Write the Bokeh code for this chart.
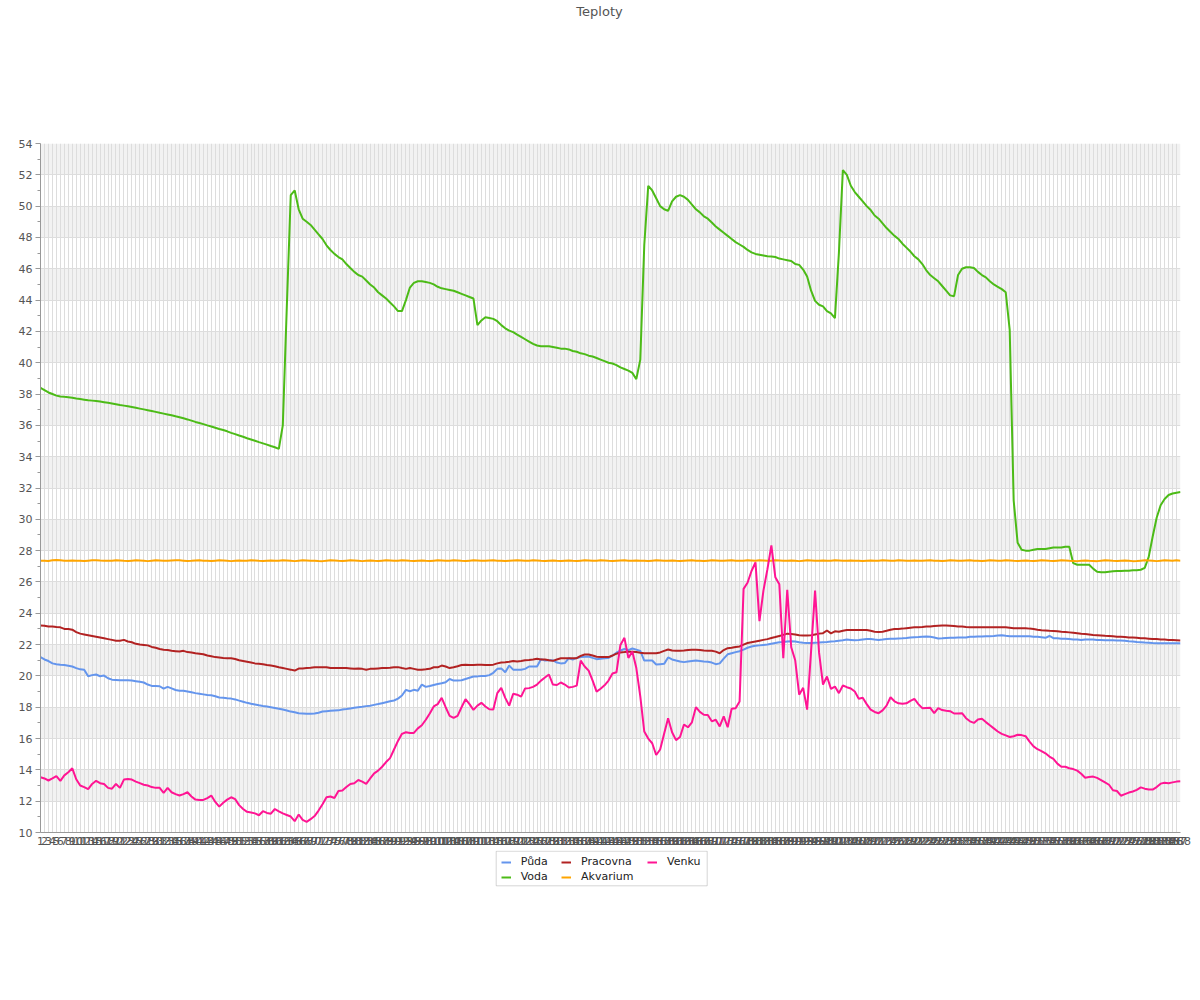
from bokeh.plotting import figure
from bokeh.models import Range1d, FixedTicker, Legend, LegendItem, Label, BoxAnnotation
from bokeh.layouts import column
from bokeh.embed import file_html
from bokeh.resources import INLINE

# ---- data -------------------------------------------------------------
chart_title = "Teploty"
x_labels = [str(i) for i in range(1, 289)]

puda = [
21.2, 21.05, 20.95, 20.8, 20.75, 20.72, 20.7, 20.65, 20.6, 20.5,
20.42, 20.4, 19.98, 20.05, 20.09, 19.98, 20.02, 19.85, 19.76, 19.74,
19.72, 19.72, 19.72, 19.7, 19.66, 19.62, 19.58, 19.45, 19.36, 19.35,
19.34, 19.19, 19.3, 19.2, 19.1, 19.05, 19.05, 19.0, 18.95, 18.9,
18.86, 18.82, 18.78, 18.76, 18.7, 18.62, 18.6, 18.57, 18.55, 18.5,
18.42, 18.35, 18.28, 18.22, 18.17, 18.12, 18.08, 18.05, 18.0, 17.95,
17.9, 17.85, 17.79, 17.72, 17.68, 17.62, 17.6, 17.58, 17.58, 17.6,
17.65, 17.73, 17.75, 17.77, 17.79, 17.8, 17.85, 17.88, 17.92, 17.96,
18.0, 18.03, 18.07, 18.1, 18.15, 18.2, 18.26, 18.32, 18.38, 18.43,
18.55, 18.75, 19.11, 19.02, 19.11, 19.05, 19.45, 19.3, 19.35, 19.42,
19.48, 19.53, 19.6, 19.8, 19.7, 19.7, 19.72, 19.8, 19.88, 19.96,
19.97, 20.0, 20.0, 20.05, 20.2, 20.45, 20.48, 20.24, 20.66, 20.4,
20.4, 20.4, 20.45, 20.6, 20.6, 20.6, 21.07, 20.98, 21.0, 21.0,
20.85, 20.8, 20.82, 21.13, 21.05, 21.15, 21.2, 21.22, 21.24, 21.15,
21.07, 21.09, 21.12, 21.15, 21.3, 21.48, 21.62, 21.72, 21.65, 21.75,
21.68, 21.6, 20.98, 20.98, 20.98, 20.73, 20.75, 20.77, 21.18, 21.05,
20.98, 20.92, 20.88, 20.92, 20.95, 20.98, 20.95, 20.92, 20.9, 20.85,
20.75, 20.8, 21.1, 21.38, 21.45, 21.52, 21.58, 21.68, 21.8, 21.88,
21.92, 21.95, 21.98, 22.0, 22.05, 22.1, 22.15, 22.17, 22.2, 22.22,
22.2, 22.15, 22.12, 22.1, 22.1, 22.12, 22.13, 22.15, 22.17, 22.2,
22.22, 22.25, 22.28, 22.32, 22.3, 22.28, 22.3, 22.33, 22.35, 22.35,
22.32, 22.3, 22.32, 22.35, 22.37, 22.38, 22.39, 22.4, 22.42, 22.45,
22.47, 22.48, 22.5, 22.52, 22.5, 22.45, 22.39, 22.4, 22.42, 22.43,
22.44, 22.45, 22.45, 22.45, 22.5, 22.5, 22.52, 22.52, 22.53, 22.53,
22.55, 22.58, 22.6, 22.56, 22.53, 22.53, 22.53, 22.53, 22.53, 22.53,
22.5, 22.5, 22.47, 22.43, 22.55, 22.41, 22.4, 22.38, 22.37, 22.35,
22.33, 22.32, 22.3, 22.32, 22.32, 22.32, 22.3, 22.3, 22.28, 22.28,
22.27, 22.26, 22.26, 22.25, 22.22, 22.2, 22.16, 22.15, 22.13, 22.12,
22.1, 22.09, 22.09, 22.09, 22.09, 22.09, 22.09, 22.09]

voda = [
38.4, 38.25, 38.1, 38.0, 37.9, 37.85, 37.82, 37.8, 37.77, 37.72,
37.68, 37.64, 37.6, 37.58, 37.55, 37.52, 37.48, 37.44, 37.4, 37.35,
37.3, 37.26, 37.22, 37.17, 37.12, 37.07, 37.02, 36.97, 36.92, 36.86,
36.8, 36.75, 36.7, 36.65, 36.58, 36.52, 36.45, 36.38, 36.3, 36.22,
36.15, 36.08, 36.0, 35.93, 35.85, 35.77, 35.7, 35.62, 35.52, 35.44,
35.35, 35.27, 35.18, 35.1, 35.02, 34.93, 34.85, 34.77, 34.68, 34.6,
34.5, 36.0, 43.5, 50.7, 51.0, 49.8, 49.2, 49.0, 48.8, 48.5,
48.2, 47.9, 47.5, 47.2, 46.95, 46.75, 46.6, 46.3, 46.05, 45.8,
45.6, 45.5, 45.25, 45.0, 44.8, 44.5, 44.3, 44.1, 43.85, 43.6,
43.3, 43.3, 44.0, 44.8, 45.1, 45.2, 45.2, 45.15, 45.1, 45.0,
44.85, 44.75, 44.7, 44.65, 44.6, 44.5, 44.4, 44.3, 44.2, 44.1,
42.4, 42.7, 42.9, 42.85, 42.8, 42.65, 42.4, 42.2, 42.05, 41.95,
41.8, 41.65, 41.5, 41.35, 41.2, 41.1, 41.05, 41.05, 41.05, 41.0,
40.95, 40.9, 40.9, 40.85, 40.75, 40.7, 40.6, 40.55, 40.45, 40.4,
40.3, 40.2, 40.1, 40.0, 39.95, 39.85, 39.7, 39.6, 39.5, 39.35,
38.95, 40.2, 47.5, 51.3, 51.0, 50.5, 50.0, 49.8, 49.7, 50.3,
50.6, 50.7, 50.6, 50.4, 50.1, 49.8, 49.6, 49.35, 49.2, 48.95,
48.7, 48.5, 48.3, 48.1, 47.9, 47.7, 47.55, 47.4, 47.2, 47.05,
46.95, 46.9, 46.85, 46.8, 46.78, 46.75, 46.65, 46.6, 46.55, 46.5,
46.3, 46.25, 45.95, 45.5, 44.6, 43.95, 43.7, 43.6, 43.3, 43.15,
42.85, 47.0, 52.3, 52.0, 51.3, 50.9, 50.6, 50.3, 50.0, 49.75,
49.4, 49.2, 48.9, 48.6, 48.35, 48.1, 47.9, 47.6, 47.35, 47.1,
46.8, 46.6, 46.3, 45.9, 45.6, 45.4, 45.2, 44.9, 44.6, 44.3,
44.25, 45.6, 46.0, 46.1, 46.1, 46.05, 45.8, 45.6, 45.45, 45.2,
45.0, 44.85, 44.7, 44.5, 42.1, 31.2, 28.5, 28.05, 28.0, 28.0,
28.05, 28.1, 28.1, 28.1, 28.15, 28.2, 28.2, 28.2, 28.25, 28.25,
27.2, 27.1, 27.1, 27.1, 27.1, 26.85, 26.65, 26.62, 26.62, 26.65,
26.68, 26.7, 26.7, 26.72, 26.72, 26.75, 26.75, 26.78, 26.9, 27.6,
28.9, 30.1, 30.9, 31.3, 31.55, 31.65, 31.7, 31.75]

pracovna = [
23.22, 23.2, 23.15, 23.15, 23.12, 23.1, 23.0, 23.0, 22.95, 22.8,
22.7, 22.65, 22.6, 22.55, 22.5, 22.45, 22.4, 22.35, 22.3, 22.25,
22.25, 22.3, 22.2, 22.15, 22.05, 22.0, 21.98, 21.95, 21.85, 21.8,
21.72, 21.67, 21.65, 21.6, 21.58, 21.56, 21.6, 21.52, 21.5, 21.45,
21.42, 21.38, 21.3, 21.25, 21.2, 21.18, 21.15, 21.13, 21.13, 21.08,
21.0, 20.95, 20.9, 20.85, 20.8, 20.78, 20.75, 20.7, 20.66, 20.62,
20.55, 20.5, 20.45, 20.4, 20.34, 20.47, 20.48, 20.5, 20.52, 20.55,
20.56, 20.56, 20.55, 20.5, 20.5, 20.5, 20.5, 20.5, 20.48, 20.45,
20.48, 20.45, 20.4, 20.45, 20.45, 20.48, 20.5, 20.5, 20.52, 20.55,
20.56, 20.5, 20.45, 20.5, 20.45, 20.4, 20.4, 20.42, 20.45, 20.55,
20.55, 20.66, 20.6, 20.5, 20.55, 20.62, 20.7, 20.72, 20.7, 20.7,
20.72, 20.72, 20.7, 20.7, 20.72, 20.8, 20.85, 20.87, 20.9, 20.95,
20.92, 20.95, 21.0, 21.01, 21.05, 21.1, 21.05, 21.05, 21.0, 20.96,
21.05, 21.13, 21.13, 21.13, 21.13, 21.13, 21.28, 21.37, 21.37, 21.3,
21.22, 21.2, 21.2, 21.2, 21.3, 21.42, 21.5, 21.52, 21.55, 21.55,
21.52, 21.48, 21.45, 21.45, 21.45, 21.45, 21.5, 21.6, 21.69, 21.62,
21.6, 21.6, 21.62, 21.65, 21.67, 21.67, 21.65, 21.62, 21.6, 21.6,
21.55, 21.45, 21.65, 21.77, 21.8, 21.85, 21.88, 22.0, 22.1, 22.15,
22.2, 22.25, 22.3, 22.35, 22.42, 22.48, 22.55, 22.62, 22.7, 22.68,
22.65, 22.6, 22.58, 22.58, 22.6, 22.65, 22.7, 22.73, 22.9, 22.72,
22.85, 22.82, 22.88, 22.93, 22.93, 22.93, 22.93, 22.93, 22.93, 22.88,
22.82, 22.8, 22.82, 22.88, 22.95, 23.0, 23.0, 23.02, 23.05, 23.08,
23.1, 23.1, 23.12, 23.15, 23.15, 23.18, 23.2, 23.22, 23.22, 23.2,
23.18, 23.15, 23.15, 23.12, 23.1, 23.1, 23.1, 23.1, 23.1, 23.1,
23.1, 23.1, 23.1, 23.1, 23.08, 23.05, 23.05, 23.05, 23.05, 23.02,
23.0, 22.95, 22.92, 22.9, 22.88, 22.87, 22.85, 22.82, 22.8, 22.78,
22.75, 22.72, 22.69, 22.67, 22.65, 22.62, 22.6, 22.58, 22.56, 22.55,
22.53, 22.5, 22.5, 22.48, 22.46, 22.45, 22.43, 22.41, 22.4, 22.38,
22.36, 22.35, 22.33, 22.32, 22.3, 22.3, 22.28, 22.26]

akvarium = [
27.35, 27.36, 27.34, 27.38, 27.4, 27.38, 27.36, 27.35, 27.37, 27.36,
27.35, 27.34, 27.36, 27.38, 27.39, 27.37, 27.36, 27.35, 27.36, 27.38,
27.37, 27.35, 27.34, 27.36, 27.38, 27.37, 27.35, 27.33, 27.36, 27.38,
27.37, 27.36, 27.35, 27.37, 27.39, 27.38, 27.36, 27.34, 27.35, 27.37,
27.38, 27.36, 27.35, 27.34, 27.36, 27.38, 27.37, 27.35, 27.33, 27.36,
27.37, 27.35, 27.36, 27.38, 27.37, 27.35, 27.34, 27.36, 27.37, 27.35,
27.36, 27.38, 27.37, 27.35, 27.33, 27.36, 27.38, 27.37, 27.35, 27.36,
27.34, 27.33, 27.36, 27.38, 27.37, 27.35, 27.34, 27.36, 27.38, 27.37,
27.35, 27.33, 27.36, 27.37, 27.35, 27.34, 27.36, 27.38, 27.37, 27.35,
27.36, 27.38, 27.37, 27.35, 27.34, 27.36, 27.37, 27.35, 27.34, 27.36,
27.38, 27.37, 27.35, 27.36, 27.38, 27.37, 27.35, 27.34, 27.36, 27.38,
27.37, 27.36, 27.35, 27.37, 27.38, 27.36, 27.35, 27.34, 27.36, 27.37,
27.38, 27.37, 27.35, 27.36, 27.38, 27.37, 27.35, 27.34, 27.36, 27.37,
27.35, 27.34, 27.36, 27.37, 27.35, 27.34, 27.36, 27.38, 27.37, 27.35,
27.36, 27.38, 27.37, 27.35, 27.34, 27.36, 27.37, 27.38, 27.36, 27.35,
27.37, 27.36, 27.35, 27.34, 27.36, 27.38, 27.37, 27.35, 27.36, 27.37,
27.35, 27.34, 27.36, 27.37, 27.38, 27.36, 27.35, 27.34, 27.36, 27.38,
27.37, 27.35, 27.36, 27.37, 27.38, 27.36, 27.35, 27.36, 27.38, 27.37,
27.36, 27.38, 27.37, 27.35, 27.36, 27.38, 27.37, 27.36, 27.35, 27.37,
27.35, 27.33, 27.36, 27.38, 27.37, 27.36, 27.35, 27.37, 27.36, 27.35,
27.38, 27.37, 27.36, 27.35, 27.37, 27.36, 27.35, 27.34, 27.36, 27.37,
27.35, 27.36, 27.38, 27.37, 27.35, 27.36, 27.38, 27.37, 27.36, 27.35,
27.37, 27.36, 27.35, 27.37, 27.38, 27.36, 27.35, 27.34, 27.36, 27.38,
27.37, 27.35, 27.36, 27.37, 27.38, 27.36, 27.35, 27.34, 27.36, 27.38,
27.37, 27.35, 27.36, 27.38, 27.37, 27.35, 27.34, 27.36, 27.37, 27.35,
27.34, 27.36, 27.38, 27.37, 27.35, 27.34, 27.36, 27.38, 27.37, 27.35,
27.34, 27.33, 27.36, 27.37, 27.35, 27.34, 27.33, 27.36, 27.38, 27.37,
27.35, 27.34, 27.36, 27.37, 27.35, 27.33, 27.34, 27.36, 27.38, 27.37,
27.35, 27.33, 27.36, 27.38, 27.37, 27.35, 27.38, 27.36]

venku = [
13.53, 13.45, 13.32, 13.45, 13.6, 13.3, 13.65, 13.85, 14.1, 13.4,
13.0, 12.9, 12.77, 13.1, 13.3, 13.15, 13.1, 12.85, 12.8, 13.1,
12.85, 13.38, 13.41, 13.38, 13.25, 13.15, 13.05, 13.0, 12.9, 12.85,
12.85, 12.53, 12.85, 12.57, 12.45, 12.36, 12.45, 12.57, 12.3, 12.1,
12.08, 12.08, 12.2, 12.36, 11.95, 11.65, 11.9, 12.1, 12.25, 12.13,
11.75, 11.5, 11.32, 11.28, 11.22, 11.1, 11.36, 11.25, 11.2, 11.5,
11.35, 11.22, 11.12, 11.02, 10.72, 11.15, 10.81, 10.68, 10.85, 11.05,
11.4, 11.8, 12.25, 12.3, 12.2, 12.65, 12.68, 12.9, 13.1, 13.15,
13.35, 13.25, 13.11, 13.45, 13.78, 13.95, 14.2, 14.5, 14.75, 15.3,
15.85, 16.3, 16.4, 16.35, 16.36, 16.65, 16.85, 17.2, 17.6, 18.05,
18.2, 18.6, 18.0, 17.45, 17.32, 17.45, 18.0, 18.51, 18.2, 17.83,
18.1, 18.28, 18.05, 17.87, 17.85, 18.9, 19.24, 18.6, 18.1, 18.86,
18.8, 18.68, 19.2, 19.22, 19.3, 19.45, 19.7, 19.9, 20.09, 19.45,
19.42, 19.58, 19.45, 19.26, 19.3, 19.38, 20.98, 20.6, 20.34, 19.7,
19.0, 19.18, 19.4, 19.7, 20.15, 20.23, 21.98, 22.43, 21.15, 21.56,
20.5, 18.7, 16.45, 16.0, 15.7, 14.95, 15.3, 16.3, 17.3, 16.4,
15.9, 16.1, 16.9, 16.72, 17.04, 18.0, 17.7, 17.52, 17.5, 17.1,
17.2, 16.77, 17.41, 16.72, 17.9, 17.94, 18.37, 25.56, 25.95, 26.7,
27.25, 23.5, 25.45, 26.8, 28.33, 26.3, 25.85, 21.13, 25.5, 21.83,
21.0, 18.8, 19.24, 17.85, 21.6, 25.45, 21.5, 19.45, 19.96, 19.17,
19.32, 18.9, 19.39, 19.28, 19.2, 19.0, 18.54, 18.6, 18.2, 17.85,
17.7, 17.62, 17.8, 18.1, 18.64, 18.38, 18.25, 18.22, 18.25, 18.4,
18.54, 18.2, 17.94, 17.95, 17.96, 17.62, 17.94, 17.82, 17.78, 17.75,
17.6, 17.6, 17.62, 17.3, 17.1, 17.0, 17.22, 17.26, 17.05, 16.85,
16.65, 16.45, 16.3, 16.2, 16.1, 16.15, 16.24, 16.22, 16.15, 15.8,
15.5, 15.32, 15.2, 15.06, 14.85, 14.7, 14.4, 14.2, 14.2, 14.1,
14.05, 13.95, 13.75, 13.5, 13.55, 13.57, 13.49, 13.35, 13.2, 13.05,
12.7, 12.65, 12.35, 12.45, 12.55, 12.62, 12.72, 12.88, 12.8, 12.74,
12.74, 12.9, 13.12, 13.18, 13.15, 13.2, 13.25, 13.28]

series_names = ["Půda", "Voda", "Pracovna", "Akvarium", "Venku"]
series_values = [puda, voda, pracovna, akvarium, venku]
series_colors = ["#6495ed", "#4cbb17", "#b22222", "#ffa500", "#ff1493"]

for s in series_values:
    assert len(s) == len(x_labels), len(s)

y_ticks = list(range(10, 55, 2))
y_minor = list(range(11, 54, 2))

FONT = "DejaVu Sans"
W = 1196
BL, BR = 40, 16          # left / right borders shared by all strips
FX0, FX1 = BL, W - BR    # frame x extent in page pixels
xs = list(range(1, len(x_labels) + 1))


def blank_figure(height):
    # frame x spans page pixels FX0..FX1, y spans 0..height (up)
    f = figure(width=W, height=height, output_backend="svg", toolbar_location=None,
               x_range=Range1d(FX0, FX1), y_range=Range1d(0, height),
               x_axis_location=None, y_axis_location=None,
               min_border_left=BL, min_border_right=BR, min_border_top=0,
               min_border_bottom=0)
    f.outline_line_color = None
    f.xgrid.visible = False
    f.ygrid.visible = False
    f.title.visible = False
    return f


# ---- title strip ------------------------------------------------------
TH = 133
tp = blank_figure(TH)
tp.add_layout(Label(x=599, y=TH - 11, text=chart_title, text_align="center",
                    text_baseline="alphabetic", text_font=FONT,
                    text_font_size="13px", text_color="#555555"))

# ---- main chart -------------------------------------------------------
p = figure(width=W, height=717, output_backend="svg", toolbar_location=None,
           x_range=Range1d(1, len(x_labels)), y_range=Range1d(10, 54),
           min_border_left=BL, min_border_right=BR, min_border_top=10,
           min_border_bottom=18)
p.title.visible = False
p.outline_line_color = None
p.background_fill_color = "white"

p.yaxis.ticker = FixedTicker(ticks=y_ticks, minor_ticks=y_minor)
p.yaxis.axis_line_color = "#999999"
p.yaxis.major_tick_line_color = "#999999"
p.yaxis.minor_tick_line_color = "#999999"
p.yaxis.major_tick_out = 5
p.yaxis.major_tick_in = 0
p.yaxis.minor_tick_out = 3
p.yaxis.minor_tick_in = 0
p.yaxis.major_label_standoff = 3
p.yaxis.major_label_text_font = FONT
p.yaxis.major_label_text_font_size = "11px"
p.yaxis.major_label_text_color = "#555555"

p.xaxis.ticker = FixedTicker(ticks=xs, minor_ticks=[])
p.xaxis.major_label_overrides = {x: lab for x, lab in zip(xs, x_labels)}
p.xaxis.axis_line_color = "#999999"
p.xaxis.major_tick_line_color = None
p.xaxis.minor_tick_line_color = None
p.xaxis.major_tick_out = 0
p.xaxis.major_tick_in = 0
p.xaxis.major_label_standoff = 4
p.xaxis.major_label_text_font = FONT
p.xaxis.major_label_text_font_size = "11px"
p.xaxis.major_label_text_color = "#555555"

xg = p.xgrid[0]
yg = p.ygrid[0]
xg.grid_line_color = "#dddddd"
yg.grid_line_color = "#dddddd"
yg.band_fill_color = "#f2f2f2"
yg.band_fill_alpha = 1.0
p.center = [yg, xg]

for name, vals, col in zip(series_names, series_values, series_colors):
    p.line(xs, vals, line_color=col, line_width=2)

# ---- legend strip -----------------------------------------------------
LH = 110
lp = blank_figure(LH)
lp.extra_y_ranges = {"off": Range1d(1000, 1001)}
items = {}
for name, vals, col in zip(series_names, series_values, series_colors):
    r = lp.line(xs, vals, line_color=col, line_width=2, y_range_name="off")
    items[name] = LegendItem(label=name, renderers=[r])

legend_columns = [(["Půda", "Voda"], 500.7), (["Pracovna", "Akvarium"], 561.0),
                  (["Venku"], 647.0)]
for names, gx in legend_columns:
    h = 13 * len(names) + 2 * (len(names) - 1)
    lg = Legend(items=[items[n] for n in names], orientation="vertical",
                location=(gx - FX0, LH - 5.2 - h), margin=0, padding=0, spacing=2,
                glyph_width=10, glyph_height=12, label_standoff=10,
                label_height=12, label_text_font=FONT,
                label_text_font_size="11px", label_text_color="#222222",
                border_line_color=None, background_fill_alpha=0.0)
    lp.add_layout(lg)

lp.add_layout(BoxAnnotation(left=495.7, right=706.7, top=LH - 0.7, bottom=LH - 35.3,
                            fill_alpha=0.0, line_color="#777777", line_width=1,
                            level="overlay"))

layout = column(tp, p, lp, spacing=0)
open("out.html", "w").write(file_html(layout, INLINE))
